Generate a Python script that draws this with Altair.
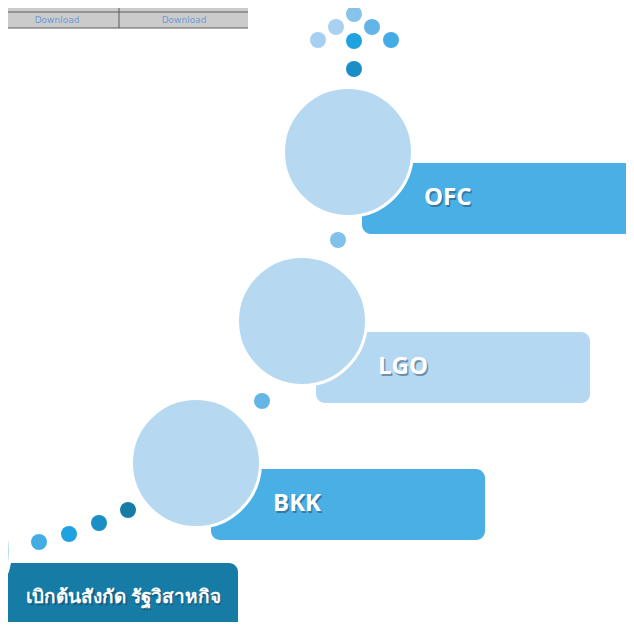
import altair as alt
import pandas as pd

# ---- top-left table ----
table_x = [0, 248]
table_y = [0, 28]
table_hline_y = [12, 28]
table_vline_x = [119]
table_text = ["Download", "Download", "Download", "Download"]
table_text_x = [57, 184, 57, 184]
table_text_y = [4, 4, 20, 20]

# ---- small dots ----
dot_x = [318, 336, 354, 372, 391, 354, 354, 338, 262, 39, 69, 99, 128]
dot_y = [40, 27, 14, 27, 40, 41, 69, 240, 401, 542, 534, 523, 510]
dot_color = ["#a6d0f0", "#a9d2f1", "#86c4ec", "#64b5e7", "#44abe4", "#1ea3e0",
             "#1a8fc5", "#80c1ea", "#64b6e7", "#45ade5", "#1fa3e0", "#1a8fc5", "#167ca6"]
dot_r = 8

# ---- stages ----
stage_label = ["OFC", "LGO", "BKK", "เบิกต้นสังกัด รัฐวิสาหกิจ"]
circle_x = [348, 302, 196, -54]
circle_y = [152, 321, 463, 551]
circle_r = 64.5
box_x1 = [362, 316, 211, -12]
box_x2 = [633, 590, 485, 238]
box_y1 = [163, 332, 469, 563]
box_y2 = [234, 403, 540, 633]
box_color = ["#4aafe4", "#b4d8f1", "#4aafe4", "#167ca6"]
label_x = [424, 378, 273, 26]
label_y = [198, 367, 504, 597]

W, H = 618, 614
xs = alt.Scale(domain=[8, 8 + W], nice=False, zero=False)
ys = alt.Scale(domain=[8, 8 + H], reverse=True, nice=False, zero=False)
X = lambda f: alt.X(f, type="quantitative", scale=xs, axis=None)
Y = lambda f: alt.Y(f, type="quantitative", scale=ys, axis=None)

table_df = pd.DataFrame({"x1": [table_x[0]], "x2": [table_x[1]], "y1": [table_y[0]], "y2": [table_y[1]]})
table_bg = alt.Chart(table_df).mark_rect(color="#cbcbcb").encode(
    x=X("x1"), x2="x2", y=Y("y1"), y2="y2")

hl_df = pd.DataFrame({"y": table_hline_y, "x1": table_x[0], "x2": table_x[1]})
hlines = alt.Chart(hl_df).mark_rule(color="#5a5a5a", strokeWidth=1).encode(
    x=X("x1"), x2="x2", y=Y("y"))
vl_df = pd.DataFrame({"x": table_vline_x, "y1": table_y[0], "y2": table_y[1]})
vlines = alt.Chart(vl_df).mark_rule(color="#5a5a5a", strokeWidth=1).encode(
    x=X("x"), y=Y("y1"), y2="y2")
tt_df = pd.DataFrame({"t": table_text, "x": table_text_x, "y": table_text_y})
ttext = alt.Chart(tt_df).mark_text(font="Tahoma, DejaVu Sans", fontSize=9, color="#6b9bd8",
                                   align="center", baseline="middle").encode(
    x=X("x"), y=Y("y"), text="t:N")

dot_df = pd.DataFrame({"x": dot_x, "y": dot_y, "c": dot_color,
                       "a": [(2 * dot_r) ** 2] * len(dot_x)})
dots = alt.Chart(dot_df).mark_circle(opacity=1).encode(
    x=X("x"), y=Y("y"), color=alt.Color("c:N", scale=None),
    size=alt.Size("a:Q", scale=None))

box_df = pd.DataFrame({"x1": box_x1, "x2": box_x2, "y1": box_y1, "y2": box_y2, "c": box_color})
boxes = alt.Chart(box_df).mark_rect(cornerRadius=9).encode(
    x=X("x1"), x2="x2", y=Y("y1"), y2="y2", color=alt.Color("c:N", scale=None))

circ_df = pd.DataFrame({"x": circle_x, "y": circle_y,
                        "a": [(2 * circle_r) ** 2] * len(circle_x)})
circles = alt.Chart(circ_df).mark_circle(opacity=1, color="#b6d9f1", stroke="white",
                                         strokeWidth=3).encode(
    x=X("x"), y=Y("y"), size=alt.Size("a:Q", scale=None))

lab_df = pd.DataFrame({"t": stage_label, "x": label_x, "y": label_y})
en_df = lab_df.iloc[:3]
th_df = lab_df.iloc[3:]


def text_layers(df, font, size):
    shadow = alt.Chart(df).mark_text(align="left", baseline="middle", fontWeight="bold",
                                     font=font, fontSize=size,
                                     color="#1b3b55", opacity=0.45, dx=1.5, dy=1.5).encode(
        x=X("x"), y=Y("y"), text="t:N")
    main = alt.Chart(df).mark_text(align="left", baseline="middle", fontWeight="bold",
                                   font=font, fontSize=size, color="white").encode(
        x=X("x"), y=Y("y"), text="t:N")
    return [shadow, main]


layers = [table_bg, hlines, vlines, ttext, dots, boxes, circles]
layers += text_layers(en_df, "Open Sans", 24)
layers += text_layers(th_df, "Noto Sans", 19)

chart = alt.layer(*layers).properties(
    width=W, height=H, padding=0, background="white",
    autosize=alt.AutoSizeParams(type="none")
).configure_view(strokeWidth=0)

chart.save("out.html", embed_options={"renderer": "svg", "actions": False})
